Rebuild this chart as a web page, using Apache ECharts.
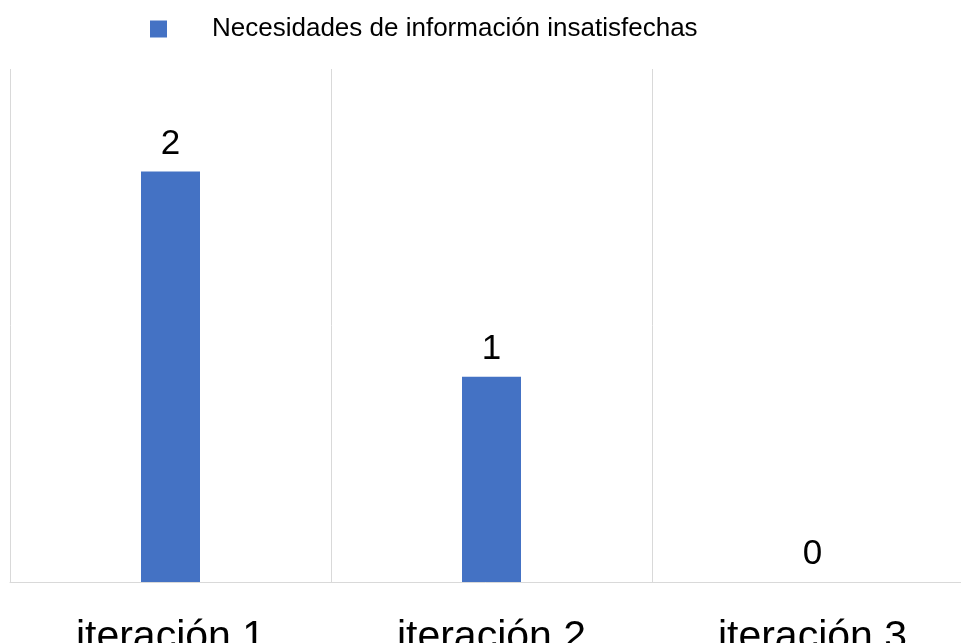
<!DOCTYPE html>
<html>
<head>
<meta charset="utf-8">
<script src="https://cdn.jsdelivr.net/npm/echarts@6/dist/echarts.min.js"></script>
<style>
  html, body { margin: 0; padding: 0; background: #fff; overflow: hidden; }
  #chart { width: 961px; height: 643px; }
</style>
</head>
<body>
<div id="chart"></div>
<script>
// Unmet information needs per iteration
const categories = ['iteración 1', 'iteración 2', 'iteración 3'];
const seriesName = 'Necesidades de información insatisfechas';
const values = [2, 1, 0];

const chart = echarts.init(document.getElementById('chart'), null, { renderer: 'canvas' });
chart.setOption({
  animation: false,
  backgroundColor: '#ffffff',
  textStyle: { fontFamily: 'Liberation Sans, Arial, sans-serif' },
  legend: {
    left: 145,
    top: 11,
    itemWidth: 17,
    itemHeight: 17,
    icon: 'rect',
    data: [seriesName],
    textStyle: { fontSize: 26, color: '#000', padding: [0, 0, 0, 40] }
  },
  grid: { left: 10, top: 69, width: 963, bottom: 61, containLabel: false, outerBoundsMode: 'none' },
  xAxis: {
    type: 'category',
    data: categories,
    boundaryGap: true,
    axisLine: { show: true, lineStyle: { color: '#d9d9d9', width: 1 } },
    axisTick: { show: false },
    splitLine: { show: true, lineStyle: { color: '#d9d9d9', width: 1 } },
    axisLabel: { fontSize: 41, color: '#000', margin: 35 }
  },
  yAxis: {
    type: 'value',
    min: 0,
    max: 2.5,
    show: false,
    splitLine: { show: false }
  },
  series: [{
    name: seriesName,
    type: 'bar',
    data: values,
    barWidth: 59,
    itemStyle: { color: '#4472C4' },
    label: { show: true, position: 'top', fontSize: 35, color: '#000', distance: 10 }
  }]
});
</script>
</body>
</html>
